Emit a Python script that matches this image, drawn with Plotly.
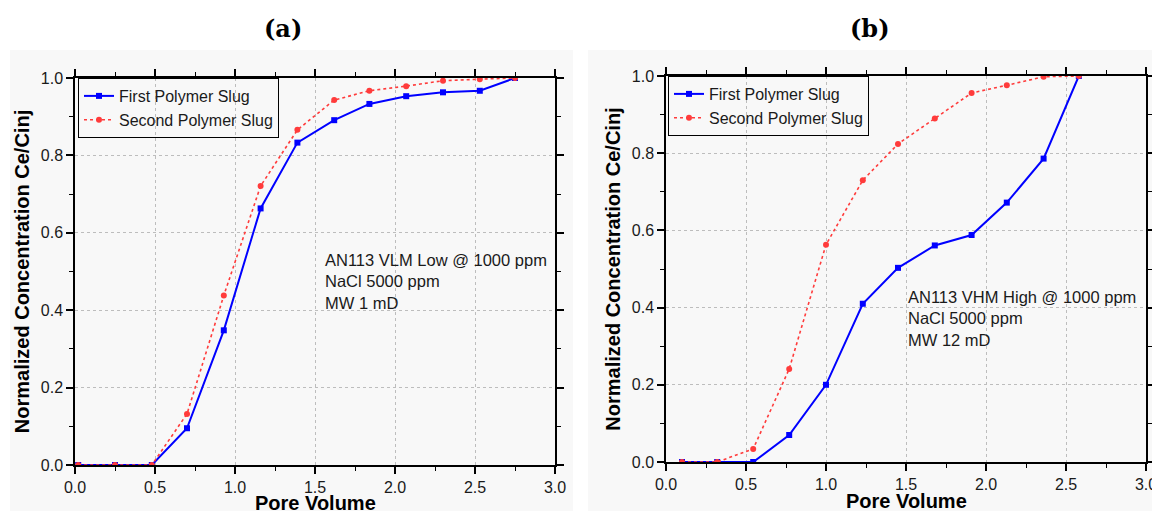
import plotly.graph_objects as go

# ---- data ----
pv_a = [0.02, 0.25, 0.48, 0.70, 0.93, 1.16, 1.39, 1.62, 1.84, 2.07, 2.30, 2.53, 2.75]
first_a = [0.0, 0.0, 0.0, 0.095, 0.348, 0.663, 0.833, 0.891, 0.933, 0.953, 0.963, 0.967, 1.0]
second_a = [0.0, 0.0, 0.0, 0.132, 0.438, 0.721, 0.866, 0.943, 0.967, 0.979, 0.993, 0.997, 1.0]

pv_b = [0.10, 0.32, 0.545, 0.77, 1.0, 1.23, 1.45, 1.68, 1.91, 2.13, 2.36, 2.58]
first_b = [0.0, 0.0, 0.0, 0.07, 0.20, 0.41, 0.503, 0.561, 0.588, 0.672, 0.786, 1.0]
second_b = [0.0, 0.0, 0.034, 0.241, 0.563, 0.730, 0.824, 0.890, 0.956, 0.976, 0.998, 1.0]

series_names = ["First Polymer Slug", "Second Polymer Slug"]
panel_titles = ["(a)", "(b)"]
notes = ["AN113 VLM Low @ 1000 ppm<br>NaCl 5000 ppm<br>MW 1 mD",
         "AN113 VHM High @ 1000 ppm<br>NaCl 5000 ppm<br>MW 12 mD"]
x_title = "Pore Volume"
y_title = "Normalized Concentration Ce/Cinj"

W, H = 1152, 511
BLUE = "#0000ff"
RED = "#ff3b3b"
PANEL_BG = "#f8f8f8"
FONT = "Liberation Sans, Arial, sans-serif"
TXT = "#1a1a1a"

fig = go.Figure()

fig.add_trace(go.Scatter(x=pv_a, y=first_a, name=series_names[0], mode="lines+markers",
                         line=dict(color=BLUE, width=2), marker=dict(symbol="square", size=6, color=BLUE),
                         xaxis="x", yaxis="y", legend="legend"))
fig.add_trace(go.Scatter(x=pv_a, y=second_a, name=series_names[1], mode="lines+markers",
                         line=dict(color=RED, width=1.6, dash="dot"), marker=dict(symbol="circle", size=6, color=RED),
                         xaxis="x", yaxis="y", legend="legend"))
fig.add_trace(go.Scatter(x=pv_b, y=first_b, name=series_names[0], mode="lines+markers",
                         line=dict(color=BLUE, width=2), marker=dict(symbol="square", size=6, color=BLUE),
                         xaxis="x2", yaxis="y2", legend="legend2"))
fig.add_trace(go.Scatter(x=pv_b, y=second_b, name=series_names[1], mode="lines+markers",
                         line=dict(color=RED, width=1.6, dash="dot"), marker=dict(symbol="circle", size=6, color=RED),
                         xaxis="x2", yaxis="y2", legend="legend2"))

GRID = dict(showgrid=True, gridcolor="#bdbdbd", griddash="3px,3px", gridwidth=1)


def xax(domain, anchor):
    return dict(domain=domain, anchor=anchor, range=[0, 3], dtick=0.5, tickformat=".1f",
                showline=True, linecolor="black", linewidth=1.5, mirror="allticks",
                ticks="outside", ticklen=7, tickwidth=1.5, tickcolor="black",
                minor=dict(ticks="outside", dtick=0.25, ticklen=4, tickwidth=1.2, tickcolor="black"),
                zeroline=False, tickfont=dict(size=16, color=TXT), automargin=False,
                ticklabeloverflow="allow", **GRID)


def yax(domain, anchor):
    return dict(domain=domain, anchor=anchor, range=[0, 1], dtick=0.2, tickformat=".1f",
                showline=True, linecolor="black", linewidth=1.5, mirror="allticks",
                ticks="outside", ticklen=7, tickwidth=1.5, tickcolor="black",
                minor=dict(ticks="outside", dtick=0.1, ticklen=4, tickwidth=1.2, tickcolor="black"),
                zeroline=False, tickfont=dict(size=16, color=TXT), automargin=False,
                title=dict(text="<b>%s</b>" % y_title, font=dict(size=20, color="black"), standoff=6),
                **GRID)


xa = [75 / W, 555 / W]
xb = [666 / W, 1146 / W]
ya = [1 - 465 / H, 1 - 78 / H]
yb = [1 - 462 / H, 1 - 76 / H]

legend_common = dict(bgcolor="rgba(0,0,0,0)", bordercolor="black", borderwidth=1,
                     font=dict(size=16, family=FONT, color=TXT), xanchor="left", yanchor="top",
                     tracegroupgap=0, itemwidth=30)

fig.update_layout(
    width=W, height=H, margin=dict(l=0, r=0, t=0, b=0),
    paper_bgcolor="white", plot_bgcolor=PANEL_BG,
    font=dict(family=FONT),
    xaxis=xax(xa, "y"), yaxis=yax(ya, "x"),
    xaxis2=xax(xb, "y2"), yaxis2=yax(yb, "x2"),
    legend=dict(x=78 / W, y=1 - 78 / H, **legend_common),
    legend2=dict(x=668 / W, y=1 - 76 / H, **legend_common),
    shapes=[
        dict(type="rect", xref="paper", yref="paper", x0=10 / W, x1=573 / W, y0=0, y1=1 - 50 / H,
             fillcolor=PANEL_BG, line=dict(width=0), layer="below"),
        dict(type="rect", xref="paper", yref="paper", x0=588 / W, x1=1, y0=0, y1=1 - 50 / H,
             fillcolor=PANEL_BG, line=dict(width=0), layer="below"),
    ],
    annotations=[
        dict(text="<b>%s</b>" % panel_titles[0], xref="paper", yref="paper", x=283 / W, y=1 - 29 / H,
             xanchor="center", yanchor="middle",
             showarrow=False, font=dict(size=24, family="DejaVu Serif, serif", color="black")),
        dict(text="<b>%s</b>" % panel_titles[1], xref="paper", yref="paper", x=870 / W, y=1 - 29 / H,
             xanchor="center", yanchor="middle",
             showarrow=False, font=dict(size=24, family="DejaVu Serif, serif", color="black")),
        dict(text="<b>%s</b>" % x_title, xref="paper", yref="paper", x=315 / W, y=1 - 503 / H,
             xanchor="center", yanchor="middle",
             showarrow=False, font=dict(size=20, color="black")),
        dict(text="<b>%s</b>" % x_title, xref="paper", yref="paper", x=906 / W, y=1 - 501 / H,
             xanchor="center", yanchor="middle",
             showarrow=False, font=dict(size=20, color="black")),
        dict(text=notes[0], xref="x", yref="y", x=1.55, y=0.558, xanchor="left", yanchor="top",
             align="left", showarrow=False, font=dict(size=16.5, color=TXT)),
        dict(text=notes[1], xref="x2", yref="y2", x=1.50, y=0.455, xanchor="left", yanchor="top",
             align="left", showarrow=False, font=dict(size=16.5, color=TXT)),
    ],
)

fig.write_html("out.html")
